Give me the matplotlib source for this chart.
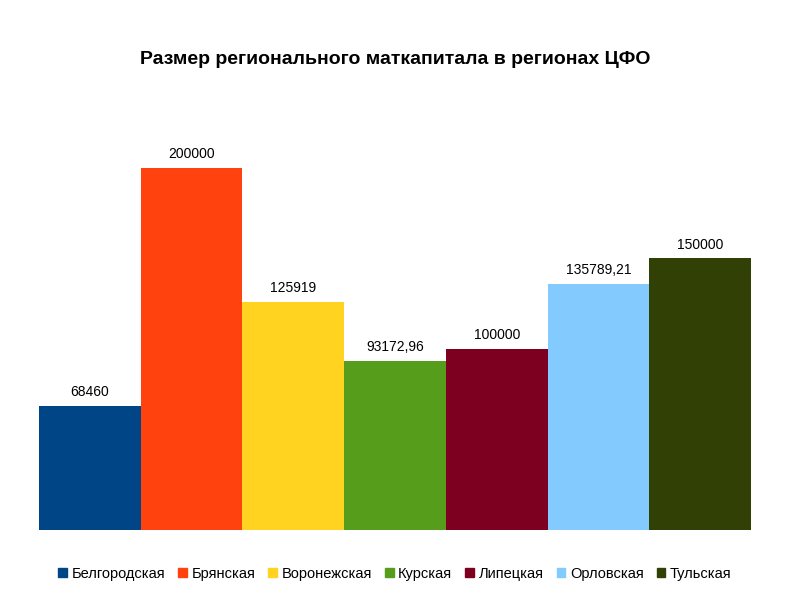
import matplotlib
matplotlib.use('Agg')
import matplotlib.pyplot as plt
import matplotlib.patches as mpatches

plt.rcParams['font.family'] = ['Liberation Sans', 'DejaVu Sans']

# ── Data ─────────────────────────────────────────────────────────
regions = ['Белгородская', 'Брянская', 'Воронежская', 'Курская',
           'Липецкая', 'Орловская', 'Тульская']
values = [68460, 200000, 125919, 93172.96, 100000, 135789.21, 150000]
labels = ['68460', '200000', '125919', '93172,96', '100000', '135789,21', '150000']
colors = ['#004586', '#FF420E', '#FFD320', '#579D1C', '#7E0021', '#83CAFF', '#314004']

# ── Layout ───────────────────────────────────────────────────────
W, H = 803, 598
fig = plt.figure(figsize=(W / 100, H / 100), dpi=100)
left, right, base = 39, 751, 530
top = base - 362 * 1.1
ax = fig.add_axes([left / W, 1 - base / H, (right - left) / W, (base - top) / H])

x = range(len(regions))
bars = ax.bar(x, values, width=1.0, color=colors, linewidth=0)

for bar, lab in zip(bars, labels):
    ax.annotate(lab, xy=(bar.get_x() + bar.get_width() / 2, bar.get_height()),
                xytext=(0, 5), textcoords='offset points',
                ha='center', va='bottom', fontsize=10)

ax.set_xlim(-0.5, len(regions) - 0.5)
ax.set_ylim(0, 220000)
ax.axis('off')

fig.text(395 / W, 1 - 60 / H, 'Размер регионального маткапитала в регионах ЦФО',
         ha='center', va='center', fontsize=14, fontweight='bold')

handles = [mpatches.Patch(color=c, label=r) for c, r in zip(colors, regions)]
fig.legend(handles=handles, loc='center', bbox_to_anchor=(395 / W, 1 - 574 / H),
           ncol=7, frameon=False, fontsize=10.5, handlelength=0.6, handleheight=0.6,
           handletextpad=0.3, columnspacing=0.9)

fig.savefig('out.png', dpi=100)
